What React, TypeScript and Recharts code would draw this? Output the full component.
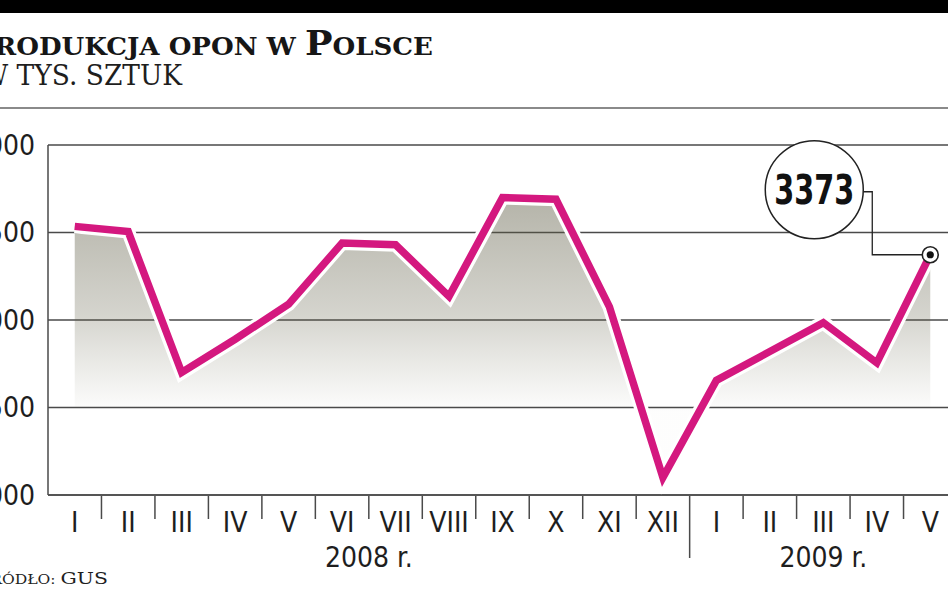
import React from 'react';
import { ComposedChart, Line, Area, XAxis, YAxis, CartesianGrid } from 'recharts';

// ---- data ----
const months = ['I', 'II', 'III', 'IV', 'V', 'VI', 'VII', 'VIII', 'IX', 'X', 'XI', 'XII', 'I', 'II', 'III', 'IV', 'V'];
const production = [3535, 3505, 2700, 2890, 3090, 3440, 3430, 3135, 3700, 3690, 3075, 2100, 2655, 2820, 2985, 2755, 3373];
const yTicks = [2000, 2500, 3000, 3500, 4000];
const yearGroups = [
  { label: '2008 r.', first: 0, last: 11 },
  { label: '2009 r.', first: 12, last: 16 },
];

const data = months.map((m, i) => ({ idx: i, month: m, value: production[i] }));

// ---- style constants ----
const CHART_W = 957;
const CHART_H = 593;
const PLOT_LEFT = 48;
const STEP = (CHART_W - PLOT_LEFT) / months.length;
const HALF = STEP / 2;
const MAGENTA = '#d4187f';
const AXIS = '#4a4a4a';
const NARROW = "'Liberation Sans Narrow', 'DejaVu Sans Condensed', 'Roboto', sans-serif";
const SERIF = "'DejaVu Serif', 'Liberation Serif', serif";

const MonthTick = (props: any) => {
  const { x, y, payload } = props;
  const i = payload.value as number;
  const group = yearGroups.find((g) => g.first === i);
  return (
    <g>
      {i > 0 && (
        <line x1={x - HALF} x2={x - HALF} y1={y + 1} y2={y + (group ? 63 : 24)} stroke={AXIS} strokeWidth={1.5} />
      )}
      <text x={x} y={y + 37} textAnchor="middle" fontFamily={NARROW} fontSize={28} fill="#1e1e1e">
        {months[i]}
      </text>
      {group && (
        <text
          x={x + ((group.last - group.first) / 2) * STEP}
          y={y + 72}
          textAnchor="middle"
          fontFamily={NARROW}
          fontSize={28}
          fill="#1e1e1e"
        >
          {group.label}
        </text>
      )}
    </g>
  );
};

const renderCallout = (props: any) => {
  const { cx, cy, index, payload } = props;
  if (index !== production.length - 1) return <g key={`d${index}`} />;
  const r = 49;
  const ccx = cx - 116;
  const ccy = cy - 65;
  return (
    <g key="callout">
      <path
        d={`M${ccx + r},${ccy + 2} H${cx - 58} V${cy} H${cx - 8}`}
        fill="none"
        stroke="#222"
        strokeWidth={1.3}
      />
      <circle cx={ccx} cy={ccy} r={r} fill="#fff" stroke="#222" strokeWidth={1.5} />
      <text
        x={ccx}
        y={ccy + 14}
        textAnchor="middle"
        fontFamily={NARROW}
        fontWeight="bold"
        fontSize={40}
        fill="#111"
        textLength={80}
        lengthAdjust="spacingAndGlyphs"
      >
        {payload.value}
      </text>
      <circle cx={cx} cy={cy} r={8} fill="#fff" stroke="#222" strokeWidth={1.6} />
      <circle cx={cx} cy={cy} r={3.6} fill="#111" />
    </g>
  );
};

export default function App() {
  return (
    <div
      style={{
        position: 'absolute',
        left: 0,
        top: 0,
        width: 948,
        height: 593,
        overflow: 'hidden',
        background: '#fff',
      }}
    >
      <ComposedChart
        width={CHART_W}
        height={CHART_H}
        data={data}
        margin={{ top: 145, right: 0, left: 0, bottom: 0 }}
      >
        <defs>
          <linearGradient id="shade" gradientUnits="userSpaceOnUse" x1="0" y1="195" x2="0" y2="412">
            <stop offset="0" stopColor="#5a5840" stopOpacity={0.76} />
            <stop offset="0.55" stopColor="#5e5c44" stopOpacity={0.44} />
            <stop offset="1" stopColor="#6a6a52" stopOpacity={0.02} />
          </linearGradient>
        </defs>
        <CartesianGrid vertical={false} stroke={AXIS} strokeWidth={1.5} />
        <XAxis
          dataKey="idx"
          type="category"
          interval={0}
          tickSize={0}
          tickMargin={0}
          tickLine={false}
          height={98}
          padding={{ left: HALF, right: HALF }}
          axisLine={{ stroke: AXIS, strokeWidth: 1.5 }}
          tick={<MonthTick />}
        />
        <YAxis
          width={PLOT_LEFT}
          domain={[2000, 4000]}
          ticks={yTicks}
          interval={0}
          tickLine={false}
          tickSize={0}
          tickMargin={13}
          axisLine={{ stroke: AXIS, strokeWidth: 1.5 }}
          tick={{ fontSize: 28, fill: '#1e1e1e', fontFamily: NARROW }}
        />
        <Area
          type="linear"
          dataKey="value"
          baseValue={2500}
          stroke="none"
          fill="url(#shade)"
          isAnimationActive={false}
          activeDot={false}
        />
        <Line
          type="linear"
          dataKey="value"
          stroke="#ffffff"
          strokeWidth={14}
          dot={false}
          activeDot={false}
          isAnimationActive={false}
        />
        <Line
          type="linear"
          dataKey="value"
          stroke={MAGENTA}
          strokeWidth={7.5}
          dot={renderCallout}
          activeDot={false}
          isAnimationActive={false}
        />
      </ComposedChart>
      <svg
        width={948}
        height={593}
        style={{ position: 'absolute', left: 0, top: 0, pointerEvents: 'none' }}
      >
        <rect x={0} y={0} width={948} height={13} fill="#000" />
        <line x1={0} x2={948} y1={108} y2={108} stroke="#8a8a8a" strokeWidth={2} />
        <text
          x={-33}
          y={55}
          fontFamily={SERIF}
          fontWeight="bold"
          fill="#161616"
          textLength={466}
          lengthAdjust="spacingAndGlyphs"
        >
          <tspan fontSize={33}>P</tspan>
          <tspan fontSize={23.5}>RODUKCJA OPON W </tspan>
          <tspan fontSize={33}>P</tspan>
          <tspan fontSize={23.5}>OLSCE</tspan>
        </text>
        <text
          x={-19}
          y={85}
          fontFamily={SERIF}
          fontSize={27}
          fill="#1e1e1e"
          textLength={201}
          lengthAdjust="spacingAndGlyphs"
        >
          W TYS. SZTUK
        </text>
        <text
          x={-24}
          y={584}
          fontFamily={SERIF}
          fill="#1e1e1e"
          textLength={132}
          lengthAdjust="spacingAndGlyphs"
        >
          <tspan fontSize={17}>Ź</tspan>
          <tspan fontSize={13}>RÓDŁO: </tspan>
          <tspan fontSize={17}>GUS</tspan>
        </text>
      </svg>
    </div>
  );
}
